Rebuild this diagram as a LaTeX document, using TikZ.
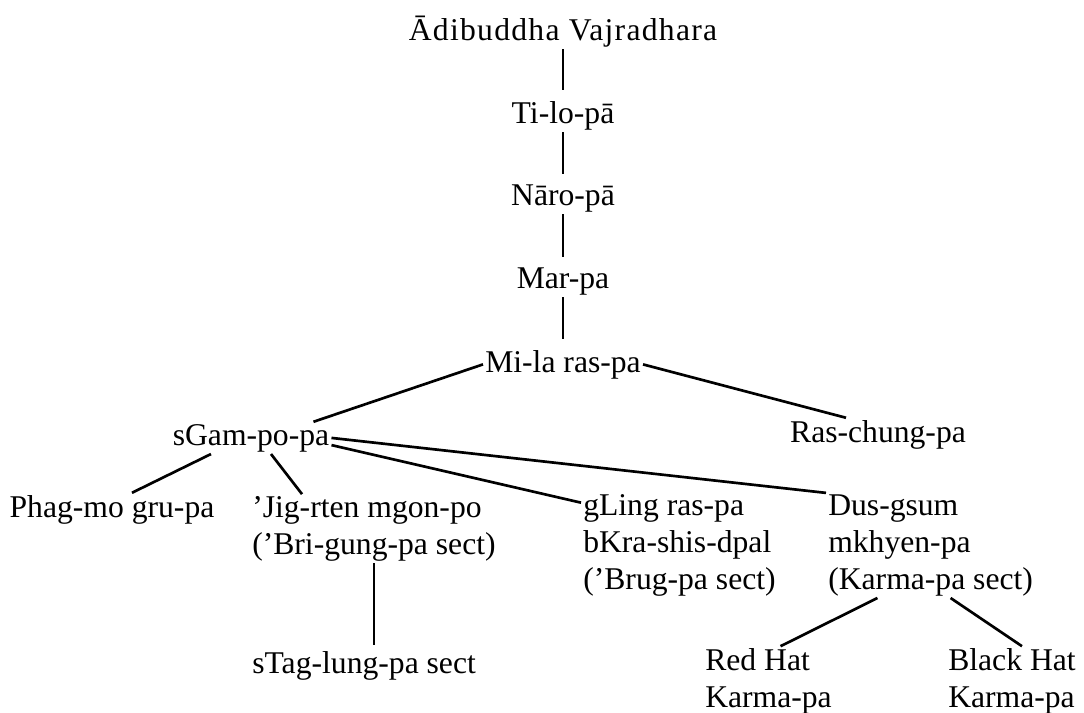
\documentclass[tikz,border=0pt]{standalone}
\usepackage{fontspec}
\setmainfont{Liberation Serif}
\usepackage{tikz}
\tikzset{
  person/.style={font=\fontsize{22.5}{26}\selectfont, inner sep=0.05cm, anchor=base},
  sect/.style={person, align=left, anchor=base west},
  link/.style={line width=1.9pt},
  stem/.style={line width=1.3pt, shorten >=0.21cm},
}

\begin{document}
\begin{tikzpicture}[x=0.025cm,y=-0.025cm]
  \useasboundingbox (0,0) rectangle (1084,712);
  % the line down to Mi-la ras-pa
  \node[person] (adi) at (563,40) {{\addfontfeature{LetterSpace=4}Ādibuddha Vajradhara}};
  \node[person] (tilo) at (563,123) {Ti-lo-pā};
  \node[person] (naro) at (563,205) {Nāro-pā};
  \node[person] (marpa) at (563,288) {Mar-pa};
  \node[person] (mila) at (563,372) {Mi-la ras-pa};
  \node[person] (sgam) at (251,445) {sGam-po-pa};
  \node[person] (rasch) at (878,442) {Ras-chung-pa};
  % disciples of sGam-po-pa (base = last line)
  \node[person] (phag) at (112,517) {Phag-mo gru-pa};
  \node[sect] (jig) at (250,554) {’Jig-rten mgon-po\\(’Bri-gung-pa sect)};
  \node[sect] (gling) at (581,589) {gLing ras-pa\\bKra-shis-dpal\\(’Brug-pa sect)};
  \node[sect] (dus) at (826,589) {Dus-gsum\\mkhyen-pa\\(Karma-pa sect)};
  \node[sect] (stag) at (250,673) {sTag-lung-pa sect};
  \node[sect] (red) at (703,707) {Red Hat\\Karma-pa};
  \node[sect] (black) at (946,707) {Black Hat\\Karma-pa};

  \draw[stem] (adi) -- (tilo);
  \draw[stem] (tilo) -- (naro);
  \draw[stem] (naro) -- (marpa);
  \draw[stem] (marpa) -- (mila);
  \draw[stem, line width=1pt, shorten >=0.1cm] (jig.south) -- (jig.south |- stag.north);

  \path[link] (mila.west) edge ([xshift=-0.45cm]sgam.north east)
              (mila.east) edge ([xshift=-0.8cm]rasch.north);
  \path[link] ([xshift=-1cm]sgam.south) edge ([xshift=0.5cm]phag.north)
              ([xshift=0.5cm]sgam.south) edge ([xshift=1.3cm]jig.north west)
              ([yshift=-0.18cm]sgam.east) edge ([yshift=-0.25cm]gling.north west)
              (sgam.east) edge (dus.north west);
  \path[link] ([xshift=-1.33cm]dus.south) edge ([xshift=0.3cm]red.north)
              ([xshift=0.5cm]dus.south) edge ([xshift=0.25cm]black.north);
\end{tikzpicture}
\end{document}
